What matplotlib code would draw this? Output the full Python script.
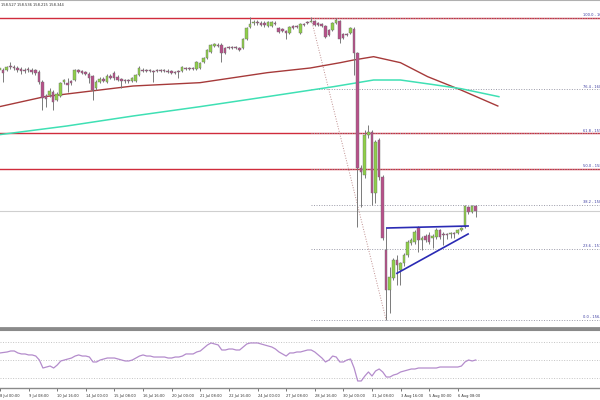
import matplotlib
matplotlib.use("Agg")
import matplotlib.pyplot as plt
import matplotlib.transforms as mtrans
import numpy as np

# 4H candles, 8 Jul 00:00 -> 6 Aug
opens = [160.46, 160.46, 160.46, 160.52, 160.51, 160.49, 160.48, 160.46, 160.48, 160.46,
         160.46, 160.43, 160.28, 160.07, 160.09, 160.13, 160.01, 160.07, 160.28, 160.27,
         160.30, 160.31, 160.46, 160.45, 160.43, 160.40, 160.37, 160.19, 160.28, 160.33,
         160.28, 160.37, 160.42, 160.36, 160.33, 160.31, 160.31, 160.30, 160.30, 160.39,
         160.46, 160.46, 160.46, 160.45, 160.46, 160.46, 160.46, 160.45, 160.45, 160.43,
         160.45, 160.45, 160.49, 160.49, 160.49, 160.48, 160.49, 160.58, 160.64, 160.73,
         160.82, 160.84, 160.84, 160.79, 160.81, 160.81, 160.81, 160.79, 160.79, 160.93,
         161.11, 161.17, 161.18, 161.17, 161.17, 161.12, 161.12, 161.17, 161.09, 161.08,
         161.05, 161.02, 161.12, 161.12, 161.02, 161.15, 161.18, 161.18, 161.20, 161.17,
         161.15, 161.12, 161.06, 161.06, 161.17, 161.20, 161.00, 161.00, 161.02, 161.08,
         160.72, 158.99, 158.89, 159.49, 159.53, 158.62, 159.41, 158.85, 157.76, 157.16,
         157.34, 157.61, 157.46, 157.57, 157.68, 157.87, 157.88, 158.09, 157.91, 157.97,
         157.99, 157.94, 157.96, 158.06, 158.00, 158.00, 158.00, 158.02, 158.02, 158.06,
         158.11, 158.41, 158.33, 158.42]
highs = [160.52, 160.49, 160.52, 160.58, 160.54, 160.52, 160.51, 160.49, 160.51, 160.49,
         160.48, 160.46, 160.31, 160.10, 160.19, 160.16, 160.13, 160.28, 160.33, 160.34,
         160.31, 160.48, 160.48, 160.46, 160.45, 160.43, 160.39, 160.31, 160.36, 160.36,
         160.40, 160.40, 160.45, 160.39, 160.34, 160.33, 160.33, 160.36, 160.40, 160.52,
         160.49, 160.48, 160.48, 160.46, 160.48, 160.48, 160.48, 160.48, 160.46, 160.45,
         160.46, 160.52, 160.51, 160.51, 160.51, 160.60, 160.58, 160.66, 160.78, 160.85,
         160.87, 160.87, 160.87, 160.81, 160.82, 160.82, 160.82, 160.81, 160.94, 161.11,
         161.26, 161.21, 161.21, 161.20, 161.20, 161.20, 161.20, 161.20, 161.11, 161.09,
         161.06, 161.12, 161.14, 161.14, 161.17, 161.17, 161.20, 161.26, 161.21, 161.18,
         161.17, 161.14, 161.08, 161.18, 161.24, 161.21, 161.02, 161.02, 161.11, 161.11,
         160.73, 159.04, 159.56, 159.64, 159.56, 159.41, 159.44, 158.89, 158.09, 157.50,
         157.64, 157.68, 157.58, 157.71, 157.91, 157.94, 158.06, 158.12, 157.97, 158.00,
         158.03, 158.00, 158.09, 158.08, 158.03, 158.02, 158.03, 158.03, 158.08, 158.11,
         158.43, 158.42, 158.43, 158.43]
lows = [160.42, 160.28, 160.45, 160.48, 160.46, 160.43, 160.40, 160.42, 160.43, 160.40,
        160.39, 160.25, 159.86, 159.91, 160.06, 159.86, 160.00, 160.06, 160.25, 160.13,
        160.24, 160.30, 160.42, 160.40, 160.39, 160.27, 160.01, 160.16, 160.27, 160.28,
        160.27, 160.33, 160.31, 160.30, 160.19, 160.27, 160.27, 160.28, 160.28, 160.37,
        160.43, 160.43, 160.43, 160.28, 160.43, 160.43, 160.43, 160.42, 160.40, 160.40,
        160.34, 160.43, 160.46, 160.46, 160.46, 160.46, 160.48, 160.57, 160.63, 160.72,
        160.81, 160.81, 160.58, 160.70, 160.78, 160.78, 160.78, 160.75, 160.78, 160.91,
        161.09, 161.14, 161.14, 161.12, 161.11, 161.11, 161.11, 161.14, 161.02, 161.03,
        160.93, 161.00, 161.08, 161.09, 161.00, 161.12, 161.15, 161.18, 161.12, 161.12,
        161.11, 160.94, 160.97, 161.05, 161.15, 160.87, 160.93, 160.97, 161.00, 160.39,
        158.10, 158.41, 158.84, 159.44, 158.43, 158.46, 158.81, 157.91, 156.71, 156.81,
        157.31, 157.23, 157.23, 157.52, 157.66, 157.84, 157.85, 157.73, 157.76, 157.88,
        157.85, 157.79, 157.93, 157.93, 157.84, 157.93, 157.94, 157.94, 158.00, 158.05,
        158.09, 158.30, 158.32, 158.26]
closes = [160.49, 160.42, 160.51, 160.51, 160.49, 160.46, 160.45, 160.45, 160.46, 160.43,
          160.42, 160.28, 160.04, 160.03, 160.15, 159.98, 160.10, 160.27, 160.31, 160.24,
          160.27, 160.46, 160.43, 160.42, 160.40, 160.34, 160.16, 160.28, 160.33, 160.30,
          160.37, 160.34, 160.34, 160.31, 160.30, 160.30, 160.30, 160.34, 160.39, 160.49,
          160.45, 160.45, 160.45, 160.43, 160.45, 160.45, 160.45, 160.43, 160.42, 160.42,
          160.43, 160.51, 160.48, 160.48, 160.48, 160.58, 160.57, 160.64, 160.76, 160.84,
          160.85, 160.82, 160.72, 160.72, 160.79, 160.79, 160.79, 160.76, 160.93, 161.09,
          161.15, 161.18, 161.17, 161.14, 161.14, 161.18, 161.18, 161.15, 161.03, 161.05,
          161.02, 161.11, 161.09, 161.11, 161.15, 161.14, 161.17, 161.20, 161.14, 161.14,
          161.12, 160.96, 160.99, 161.17, 161.21, 160.93, 160.94, 160.99, 161.09, 160.72,
          158.99, 158.93, 159.49, 159.53, 158.62, 159.38, 158.85, 157.94, 157.16, 157.35,
          157.61, 157.53, 157.57, 157.68, 157.88, 157.91, 158.03, 157.91, 157.94, 157.91,
          157.88, 157.97, 158.06, 157.96, 157.99, 157.99, 158.02, 158.00, 158.06, 158.09,
          158.42, 158.33, 158.42, 158.34]

rsi = [57.8, 58.3, 58.9, 60.0, 60.0, 57.8, 56.7, 56.7, 55.6, 55.6,
       54.4, 50.0, 41.1, 42.2, 43.3, 41.1, 44.4, 48.9, 50.0, 51.1,
       52.2, 54.4, 55.6, 54.4, 54.4, 53.3, 47.8, 47.8, 50.0, 51.1,
       52.2, 52.2, 52.2, 51.1, 50.0, 48.9, 48.9, 50.0, 52.2, 54.4,
       55.6, 54.4, 54.4, 53.3, 53.3, 53.3, 53.3, 52.2, 52.2, 53.3,
       53.3, 54.4, 56.7, 56.7, 56.7, 58.9, 60.0, 63.3, 66.7, 68.9,
       67.8, 66.7, 61.1, 61.1, 62.2, 62.2, 61.1, 61.1, 64.4, 67.8,
       68.9, 68.9, 68.9, 67.8, 66.7, 65.6, 64.4, 62.2, 58.9, 56.7,
       54.4, 57.8, 57.8, 58.9, 58.9, 60.0, 61.1, 61.1, 58.9, 55.6,
       52.2, 47.8, 50.0, 54.4, 53.3, 47.8, 47.8, 50.0, 51.1, 41.1,
       26.7, 26.7, 32.2, 36.7, 32.2, 37.8, 40.0, 36.7, 31.1, 31.1,
       33.3, 34.4, 36.7, 37.8, 38.9, 40.0, 40.0, 41.1, 41.1, 41.1,
       41.1, 41.1, 41.1, 42.2, 42.2, 42.2, 42.2, 42.2, 42.2, 43.3,
       47.8, 50.0, 48.9, 50.0]

# moving averages (shifted forward, read at a few bars)
ma_slow_bars = [0, 12.6, 28, 37.3, 56, 74.8, 86.8, 95.2, 98.9, 104.5, 112, 119.6, 128.9, 139.2]
ma_slow = [159.91, 160.06, 160.16, 160.22, 160.27, 160.42, 160.49, 160.57, 160.61, 160.66,
           160.57, 160.36, 160.16, 159.92]
ma_long_bars = [0, 18.8, 37.3, 56, 74.8, 93.3, 104.5, 112, 121.3, 128.9, 139.5]
ma_long = [159.49, 159.62, 159.77, 159.91, 160.06, 160.21, 160.31, 160.31, 160.24, 160.18, 160.06]

fib_high, fib_low = 161.24, 156.71
fib_start, fib_end = 87, 108
fib_pcts = [100.0, 76.4, 61.8, 50.0, 38.2, 23.6, 0.0]
red_levels = [100.0, 61.8, 50.0]

tri_top_bars, tri_top = [108.2, 130.9], [158.09, 158.12]
tri_bot_bars, tri_bot = [111.0, 130.9], [157.41, 158.00]

tick_labels = ["8 Jul 00:00", "9 Jul 08:00", "10 Jul 16:00", "14 Jul 00:00", "15 Jul 08:00",
               "16 Jul 16:00", "20 Jul 00:00", "21 Jul 08:00", "22 Jul 16:00", "24 Jul 00:00",
               "27 Jul 08:00", "28 Jul 16:00", "30 Jul 00:00", "31 Jul 08:00", "3 Aug 16:00",
               "5 Aug 00:00", "6 Aug 08:00"]
header = "158.527 158.536 158.215 158.344"

BULL = '#8fcf48'
BEAR = '#b8508a'
FS = 2.6

fig = plt.figure(figsize=(6, 4), dpi=100)
fig.patch.set_facecolor('white')

xlim = (0.14, 167.74)
ax = fig.add_axes([0, 72 / 400, 1, 328 / 400])
ax.set_xlim(*xlim)
ax.set_ylim(156.59, 161.51)

o = np.array(opens); h = np.array(highs); l = np.array(lows); c = np.array(closes)
bars = np.arange(len(c))

# levels under the candles
rng = fib_high - fib_low
for p in red_levels:
    ax.axhline(fib_low + p / 100 * rng, color='#d02c3c', lw=1.0, zorder=1)
ax.axhline(c[-1], color='#cfcfcf', lw=0.8, zorder=1)
trans = mtrans.blended_transform_factory(ax.transAxes, ax.transData)
for p in fib_pcts:
    lvl = fib_low + p / 100 * rng
    ax.hlines(lvl, fib_start, xlim[1], color='#9a9aa8', lw=0.7,
              linestyles=(0, (1, 1.6)), zorder=2)
    ax.text(583 / 600, lvl + 0.01, f"{p:.1f} - {lvl:.3f}", transform=trans,
            fontsize=FS, color='#3a3aa0', va='bottom', ha='left', clip_on=False)
ax.plot([fib_start, fib_end], [fib_high, fib_low], color='#c09090', lw=0.7,
        ls=(0, (1, 1.6)), zorder=2)

ax.plot(ma_slow_bars, ma_slow, color='#a63a3a', lw=1.0, zorder=3)
ax.plot(ma_long_bars, ma_long, color='#3fe0b4', lw=1.1, zorder=3)

# candles
ax.vlines(bars, l, h, color='#7a7a7a', lw=0.7, zorder=4)
bottom = np.minimum(o, c)
height = np.maximum(np.abs(c - o), 0.012)
cols = [BULL if cc >= oo else BEAR for oo, cc in zip(o, c)]
ax.bar(bars, height, bottom=bottom, width=0.72, color=cols,
       edgecolor='#6f6f6f', lw=0.3, zorder=5)

ax.plot(tri_top_bars, tri_top, color='#2a2ab4', lw=1.2, zorder=6)
ax.plot(tri_bot_bars, tri_bot, color='#2a2ab4', lw=1.2, zorder=6)

for s in ['left', 'right']:
    ax.spines[s].set_visible(False)
ax.spines['top'].set_color('#b0b0b0')
ax.spines['top'].set_linewidth(1.5)
ax.spines['bottom'].set_color('#8a8a8a')
ax.spines['bottom'].set_linewidth(2)
ax.set_xticks([]); ax.set_yticks([])

fig.text(1 / 600, 1 - 5 / 400, header, fontsize=FS, color='#303030', va='center', ha='left')

# RSI pane
ax2 = fig.add_axes([0, 12 / 400, 1, 58 / 400])
ax2.set_xlim(*xlim)
ax2.set_ylim(18.9, 83.3)
for lvl in [30, 50, 70]:
    ax2.axhline(lvl, color='#c4c4c4', lw=0.7, ls=(0, (1, 1.6)))
ax2.plot(bars, rsi, color='#b48ccc', lw=0.9)
for s in ['left', 'right']:
    ax2.spines[s].set_visible(False)
ax2.spines['top'].set_color('#8a8a8a')
ax2.spines['top'].set_linewidth(1.5)
ax2.spines['bottom'].set_color('#8a8a8a')
ax2.spines['bottom'].set_linewidth(1)
ax2.set_yticks([])
ax2.set_xticks(np.arange(0, 8 * len(tick_labels), 8))
ax2.set_xticklabels(tick_labels, fontsize=FS, color='#303030')
for lb in ax2.get_xticklabels():
    lb.set_ha('left')
ax2.tick_params(axis='x', length=2.5, width=0.6, color='#606060', pad=1.5)

fig.savefig('out.png', dpi=100, facecolor='white')
